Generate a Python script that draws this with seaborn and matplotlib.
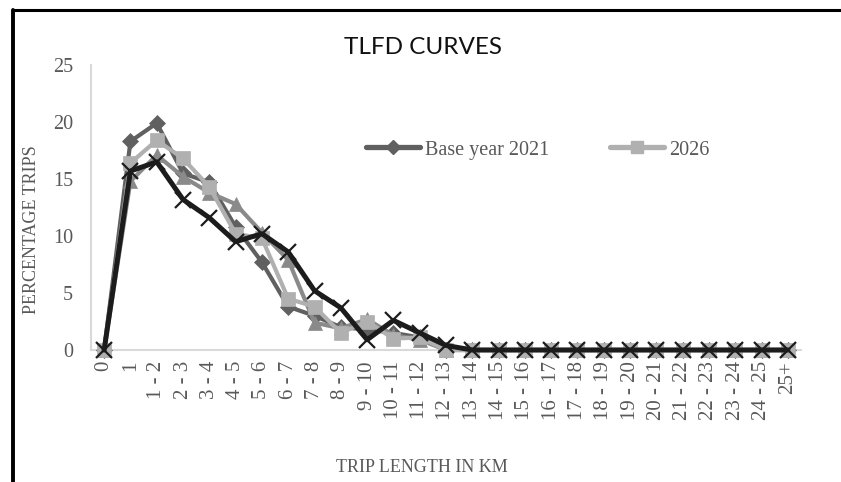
import matplotlib
matplotlib.use("Agg")
import matplotlib.pyplot as plt
import seaborn as sns
import numpy as np
import pandas as pd
from matplotlib.lines import Line2D

categories = ["0", "1", "1 - 2", "2 - 3", "3 - 4", "4 - 5", "5 - 6", "6 - 7", "7 - 8",
              "8 - 9", "9 - 10", "10 - 11", "11 - 12", "12 - 13", "13 - 14", "14 - 15",
              "15 - 16", "16 - 17", "17 - 18", "18 - 19", "19 - 20", "20 - 21", "21 - 22",
              "22 - 23", "23 - 24", "24 - 25", "25+"]

base_2021 = [0, 18.3, 19.9, 15.5, 14.7, 10.8, 7.7, 3.8, 3.0, 2.0, 1.8, 1.5, 1.1, 0,
             0, 0, 0, 0, 0, 0, 0, 0, 0, 0, 0, 0, 0]
y_2026 = [0, 16.4, 18.4, 16.8, 14.3, 10.2, 9.8, 4.5, 3.8, 1.5, 2.5, 1.0, 1.1, 0,
          0, 0, 0, 0, 0, 0, 0, 0, 0, 0, 0, 0, 0]
y_2031 = [0, 14.8, 17.1, 15.2, 13.8, 12.8, 10.3, 7.9, 2.4, 1.9, 2.7, 1.3, 0.9, 0,
          0, 0, 0, 0, 0, 0, 0, 0, 0, 0, 0, 0, 0]
y_2036 = [0, 15.7, 16.5, 13.2, 11.6, 9.5, 10.2, 8.6, 5.2, 3.7, 0.9, 2.6, 1.5, 0.4,
          0, 0, 0, 0, 0, 0, 0, 0, 0, 0, 0, 0, 0]

sns.set_theme(style="white")
plt.rcParams['font.family'] = ['Liberation Serif', 'DejaVu Serif']

W, H = 841, 482
fig = plt.figure(figsize=(W / 100, H / 100), dpi=100)
ax = fig.add_axes([91 / W, 1 - 350 / H, 710 / W, 285 / H])

x = np.arange(len(categories))
txt = "#595959"

series = [
    ("Base year 2021", base_2021, "#606060", "D", 8, 3.0, 2),
    ("2031", y_2031, "#8a8a8a", "^", 10, 3.0, 3),
    ("2026", y_2026, "#b0b0b0", "s", 9.5, 3.0, 4),
    ("2036", y_2036, "#1c1c1c", "x", 11, 3.6, 5),
]
handles = {}
for name, vals, col, mk, ms, lw, z in series:
    df = pd.DataFrame({"x": x, "y": vals})
    sns.lineplot(data=df, x="x", y="y", ax=ax, color=col, marker=mk, markersize=ms,
                 linewidth=lw, markeredgecolor=col,
                 markeredgewidth=1.6 if mk == "x" else 0.5,
                 zorder=z, legend=False, clip_on=False)
    handles[name] = Line2D([0], [0], color=col, marker=mk, markersize=ms * 0.85,
                           linewidth=lw + 0.8, markeredgecolor=col)

ax.set_xlim(-0.5, len(categories) - 0.5)
ax.set_ylim(0, 25)
ax.set_yticks([0, 5, 10, 15, 20, 25])
ax.set_xticks(x)
ax.set_xticklabels(categories, rotation=90, fontsize=15, color=txt)
ax.tick_params(axis="y", labelsize=14.5, labelcolor=txt, length=0, pad=13)
ax.tick_params(axis="x", length=0, pad=8)
for s in ["top", "right"]:
    ax.spines[s].set_visible(False)
for s in ["left", "bottom"]:
    ax.spines[s].set_color("#d9d9d9")
    ax.spines[s].set_linewidth(1.5)
    ax.spines[s].set_zorder(1)

ax.set_xlabel("TRIP LENGTH IN KM", fontsize=13, color=txt)
ax.xaxis.set_label_coords((422 - 91) / 710, (350 - 467) / 285)
ax.xaxis.label.set_va("center")
ax.set_ylabel("PERCENTAGE TRIPS", fontsize=13, color=txt)
ax.yaxis.set_label_coords((32 - 91) / 710, (350 - 230) / 285)
ax.yaxis.label.set_va("center")

fig.text(423.5 / W, 1 - 47 / H, "TLFD CURVES", fontsize=17.5, color="#111111",
         family=["Lato", "DejaVu Sans"], ha="center", va="center")

leg = fig.legend([handles["Base year 2021"], handles["2026"]], ["Base year 2021", "2026"],
                 loc="center left", bbox_to_anchor=(366 / W, 1 - 150 / H), ncol=2,
                 frameon=False, fontsize=14.5, handlelength=2.7, columnspacing=3.0,
                 handletextpad=0.25, borderpad=0, borderaxespad=0)
for t in leg.get_texts():
    t.set_color(txt)

fig.add_artist(Line2D([12.5 / W, 12.5 / W], [0, 1 - 10 / H], color="black", linewidth=2.8,
                      transform=fig.transFigure))
fig.add_artist(Line2D([12.5 / W, 1.0], [1 - 10 / H, 1 - 10 / H], color="black", linewidth=2.2,
                      transform=fig.transFigure))

fig.savefig("out.png", dpi=100)
